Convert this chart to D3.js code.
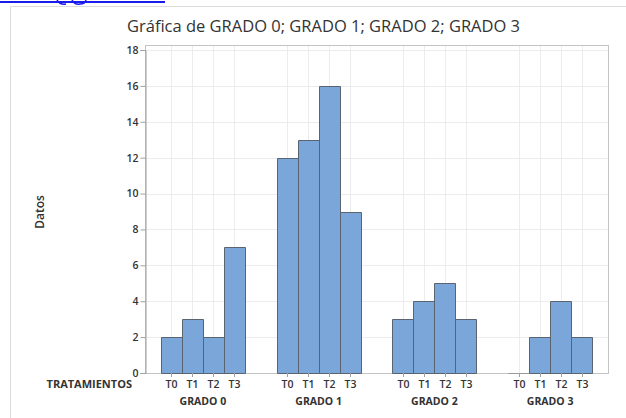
<!DOCTYPE html>
<html>
<head>
<meta charset="utf-8">
<script src="https://cdn.jsdelivr.net/npm/d3@7"></script>
<style>
  body { margin: 0; background: #fff; }
  text { font-family: "Open Sans", "Noto Sans", sans-serif; fill: #333; }
</style>
</head>
<body>
<svg id="chart" width="626" height="418"></svg>
<script>
// data
const grados = ["GRADO 0", "GRADO 1", "GRADO 2", "GRADO 3"];
const tratamientos = ["T0", "T1", "T2", "T3"];
const grado0 = [2, 3, 2, 7];
const grado1 = [12, 13, 16, 9];
const grado2 = [3, 4, 5, 3];
const grado3 = [0, 2, 4, 2];
const yTicks = [0, 2, 4, 6, 8, 10, 12, 14, 16, 18];

const series = [grado0, grado1, grado2, grado3];

const svg = d3.select("#chart");
const plotLeft = 145, plotRight = 608, plotTop = 45, plotBottom = 373;

// outer panel + cropped link at the top
svg.append("rect").attr("x", 0).attr("y", 1).attr("width", 165).attr("height", 2).attr("fill", "#1a1aee");
svg.append("path").attr("d", "M57,0 Q60,5 66,4 M72,0 Q75,5 80,4 Q85,4 86,0")
    .attr("fill", "none").attr("stroke", "#1a1aee").attr("stroke-width", 1.5);
svg.append("path").attr("d", `M10.5,418 V6.5 H626`).attr("fill", "none").attr("stroke", "#dcdcdc");

const x = d3.scaleBand().domain(grados).range([plotLeft, plotRight])
    .paddingInner(1.5 / 5.5).paddingOuter(0.75 / 5.5);
const xi = d3.scaleBand().domain(tratamientos).range([0, x.bandwidth()]);
const y = d3.scaleLinear().domain([0, 18]).range([plotBottom, 50]);

// grid
const g = svg.append("g");
yTicks.forEach(t => {
    g.append("line").attr("x1", plotLeft).attr("x2", plotRight)
        .attr("y1", Math.round(y(t)) + 0.5).attr("y2", Math.round(y(t)) + 0.5)
        .attr("stroke", "#ececec");
});
grados.forEach(gr => tratamientos.forEach(t => {
    const cx = Math.round(x(gr) + xi(t) + xi.bandwidth() / 2) + 0.5;
    g.append("line").attr("x1", cx).attr("x2", cx).attr("y1", plotTop).attr("y2", plotBottom)
        .attr("stroke", "#ececec");
}));

// frame
svg.append("rect").attr("x", plotLeft + 0.5).attr("y", plotTop + 0.5)
    .attr("width", plotRight - plotLeft).attr("height", plotBottom - plotTop)
    .attr("fill", "none").attr("stroke", "#c4c4c4");

// bars (paths so a zero value still shows as a line)
grados.forEach((gr, gi) => {
    series[gi].forEach((v, ti) => {
        const x0 = Math.round(x(gr) + xi(tratamientos[ti])) + 0.5;
        const x1 = Math.round(x(gr) + xi(tratamientos[ti]) + xi.bandwidth()) + 0.5;
        const y0 = Math.round(y(0)) + 0.5, y1 = Math.round(y(v)) + 0.5;
        svg.append("path")
            .attr("d", `M${x0},${y0} V${y1} H${x1} V${y0} Z`)
            .attr("fill", "#7ba6da")
            .attr("stroke", v === 0 ? "#9a9a9a" : "#5a6470")
            .attr("stroke-width", 1);
    });
});

// y axis
const yAxis = d3.axisLeft(y).tickValues(yTicks).tickSize(5).tickPadding(2);
svg.append("g").attr("transform", `translate(${plotLeft + 0.5},0)`).call(yAxis)
    .call(a => a.select(".domain").attr("stroke", "#a0a0a0"))
    .call(a => a.selectAll(".tick line").attr("stroke", "#a0a0a0"))
    .call(a => a.selectAll("text").attr("font-size", 10.5).attr("font-weight", 600)
        .attr("fill", "#333").style("font-family", "'Open Sans', sans-serif"));

// x axis ticks + labels
const xa = svg.append("g");
grados.forEach(gr => {
    tratamientos.forEach(t => {
        const cx = Math.round(x(gr) + xi(t) + xi.bandwidth() / 2) + 0.5;
        xa.append("line").attr("x1", cx).attr("x2", cx).attr("y1", plotBottom).attr("y2", plotBottom + 4)
            .attr("stroke", "#a0a0a0");
        xa.append("text").attr("x", cx).attr("y", 388).attr("text-anchor", "middle")
            .attr("font-size", 10.5).attr("font-weight", 600).text(t);
    });
    xa.append("text").attr("x", x(gr) + x.bandwidth() / 2).attr("y", 405)
        .attr("text-anchor", "middle").attr("font-size", 10.5).attr("font-weight", 700).text(gr);
});
svg.append("text").attr("x", 132).attr("y", 388).attr("text-anchor", "end")
    .attr("font-size", 11).attr("font-weight", 700).text("TRATAMIENTOS");

// titles
svg.append("text").attr("x", 323.5).attr("y", 32).attr("text-anchor", "middle")
    .attr("font-size", 16.5).attr("font-weight", 400).attr("fill", "#3a3a3a")
    .text("Gráfica de GRADO 0; GRADO 1; GRADO 2; GRADO 3");
svg.append("text").attr("transform", "translate(44,212) rotate(-90)").attr("text-anchor", "middle")
    .attr("font-size", 12).attr("font-weight", 600).text("Datos");
</script>
</body>
</html>
